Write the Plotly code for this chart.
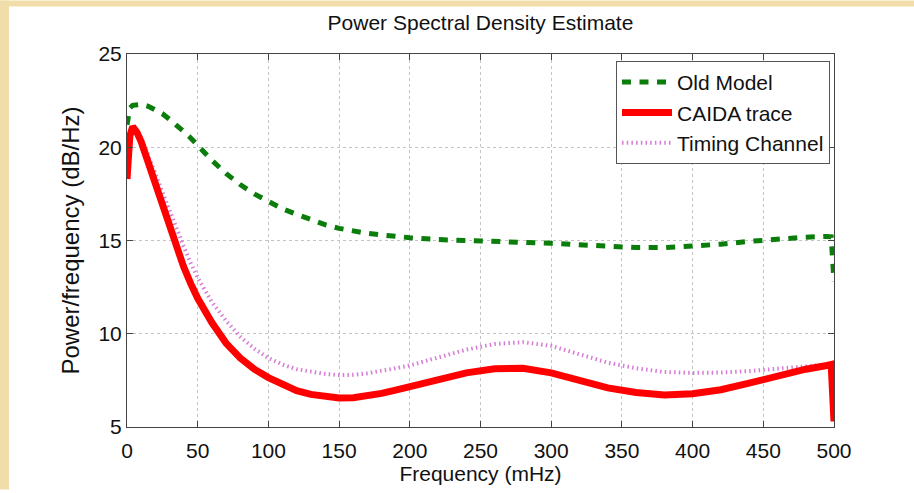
import plotly.graph_objects as go

freq = [0, 2, 4, 7, 10, 15, 20, 25, 30, 35, 40, 45, 50, 60, 70, 80, 90, 100, 110, 120,
        130, 140, 150, 160, 170, 180, 190, 200, 220, 240, 260, 280, 300, 320, 340, 360,
        380, 400, 420, 440, 460, 480, 495, 498, 500]

old_model = [21.2, 22.1, 22.25, 22.3, 22.3, 22.2, 22.0, 21.8, 21.5, 21.2, 20.85, 20.5, 20.1,
             19.3, 18.6, 18.0, 17.5, 17.1, 16.7, 16.4, 16.1, 15.85, 15.65, 15.5, 15.38, 15.3,
             15.22, 15.15, 15.05, 14.98, 14.93, 14.9, 14.85, 14.78, 14.68, 14.62, 14.62, 14.7,
             14.8, 14.95, 15.08, 15.18, 15.22, 15.2, 12.8]

caida = [18.3, 20.6, 21.1, 20.8, 20.3, 19.2, 18.0, 16.8, 15.7, 14.6, 13.6, 12.7, 11.9, 10.6,
         9.5, 8.7, 8.1, 7.65, 7.25, 6.95, 6.75, 6.62, 6.55, 6.57, 6.66, 6.8, 6.98, 7.15, 7.55,
         7.9, 8.12, 8.15, 7.9, 7.5, 7.1, 6.85, 6.72, 6.78, 7.0, 7.35, 7.75, 8.1, 8.3, 8.35, 5.3]

timing = [18.5, 20.7, 21.1, 20.9, 20.5, 19.6, 18.6, 17.6, 16.6, 15.6, 14.7, 13.8, 13.0, 11.7,
          10.7, 9.85, 9.2, 8.7, 8.35, 8.1, 7.95, 7.85, 7.78, 7.8, 7.88, 8.0, 8.15, 8.3, 8.7,
          9.15, 9.45, 9.55, 9.35, 8.9, 8.45, 8.15, 7.95, 7.9, 7.92, 8.0, 8.1, 8.25, 8.35, 8.4, 5.4]

x_ticks = [0, 50, 100, 150, 200, 250, 300, 350, 400, 450, 500]
y_ticks = [5, 10, 15, 20, 25]

FONT = "Liberation Sans, Arial, Helvetica, sans-serif"
TXT = "#111111"

fig = go.Figure()
fig.add_trace(go.Scatter(x=freq, y=timing, mode="lines", name="Timing Channel",
                         line=dict(color="#d67cd6", width=4, dash="1.5px,3.2px")))
fig.add_trace(go.Scatter(x=freq, y=old_model, mode="lines", name="Old Model",
                         line=dict(color="#0a7d0a", width=5, dash="9px,8.5px")))
fig.add_trace(go.Scatter(x=freq, y=caida, mode="lines", name="CAIDA trace",
                         line=dict(color="#ff0000", width=7)))

W, H = 914, 493
L, R, T, B = 127, 80, 54, 63
pw, ph = W - L - R, H - T - B

def px(xp):
    return (xp - L) / pw

def py(yp):
    return 1 - (yp - T) / ph

cream = "#f1ddaa"
fig.add_shape(type="rect", xref="paper", yref="paper", x0=px(0), x1=px(9), y0=py(H), y1=py(0),
              fillcolor=cream, line_width=0, layer="above")
fig.add_shape(type="rect", xref="paper", yref="paper", x0=px(0), x1=px(W), y0=py(6), y1=py(0),
              fillcolor=cream, line_width=0, layer="above")

axis_common = dict(showline=True, linecolor="#444444", linewidth=1, mirror="ticks",
                   ticks="inside", ticklen=6, tickcolor="#444444", showgrid=True,
                   gridcolor="#c4c4c4", griddash="dot", gridwidth=1, zeroline=False,
                   tickfont=dict(family=FONT, size=21, color=TXT))

fig.update_xaxes(range=[0, 500], tickvals=x_ticks, ticktext=[str(v) for v in x_ticks],
                 ticklabelstandoff=5,
                 title=dict(text="Frequency (mHz)", font=dict(family=FONT, size=21, color=TXT),
                            standoff=4), **axis_common)
fig.update_yaxes(range=[5, 25], tickvals=y_ticks, ticktext=[str(v) for v in y_ticks],
                 title=dict(text="Power/frequency (dB/Hz)", font=dict(family=FONT, size=24, color=TXT),
                            standoff=12), **axis_common)

fig.update_layout(
    width=W, height=H,
    margin=dict(l=L, r=R, t=T, b=B),
    paper_bgcolor="white", plot_bgcolor="white",
    title=dict(text="Power Spectral Density Estimate", xref="paper", x=0.5, xanchor="center",
               yref="container", y=1 - 23 / H, yanchor="middle",
               font=dict(family=FONT, size=21, color=TXT)),
    legend=dict(x=px(616), y=py(61), xanchor="left", yanchor="top",
                bgcolor="white", bordercolor="#555555", borderwidth=1,
                font=dict(family=FONT, size=21, color=TXT),
                traceorder="normal", tracegroupgap=0, itemwidth=50),
    showlegend=True,
)
fig.data[1].legendrank = 1
fig.data[2].legendrank = 2
fig.data[0].legendrank = 3

fig.write_html("out.html", config={"displayModeBar": False},
               post_script=("document.body.style.margin='0';document.body.style.padding='0';"
                            "document.body.style.overflow='hidden';"
                            "document.documentElement.style.overflow='hidden';"))
